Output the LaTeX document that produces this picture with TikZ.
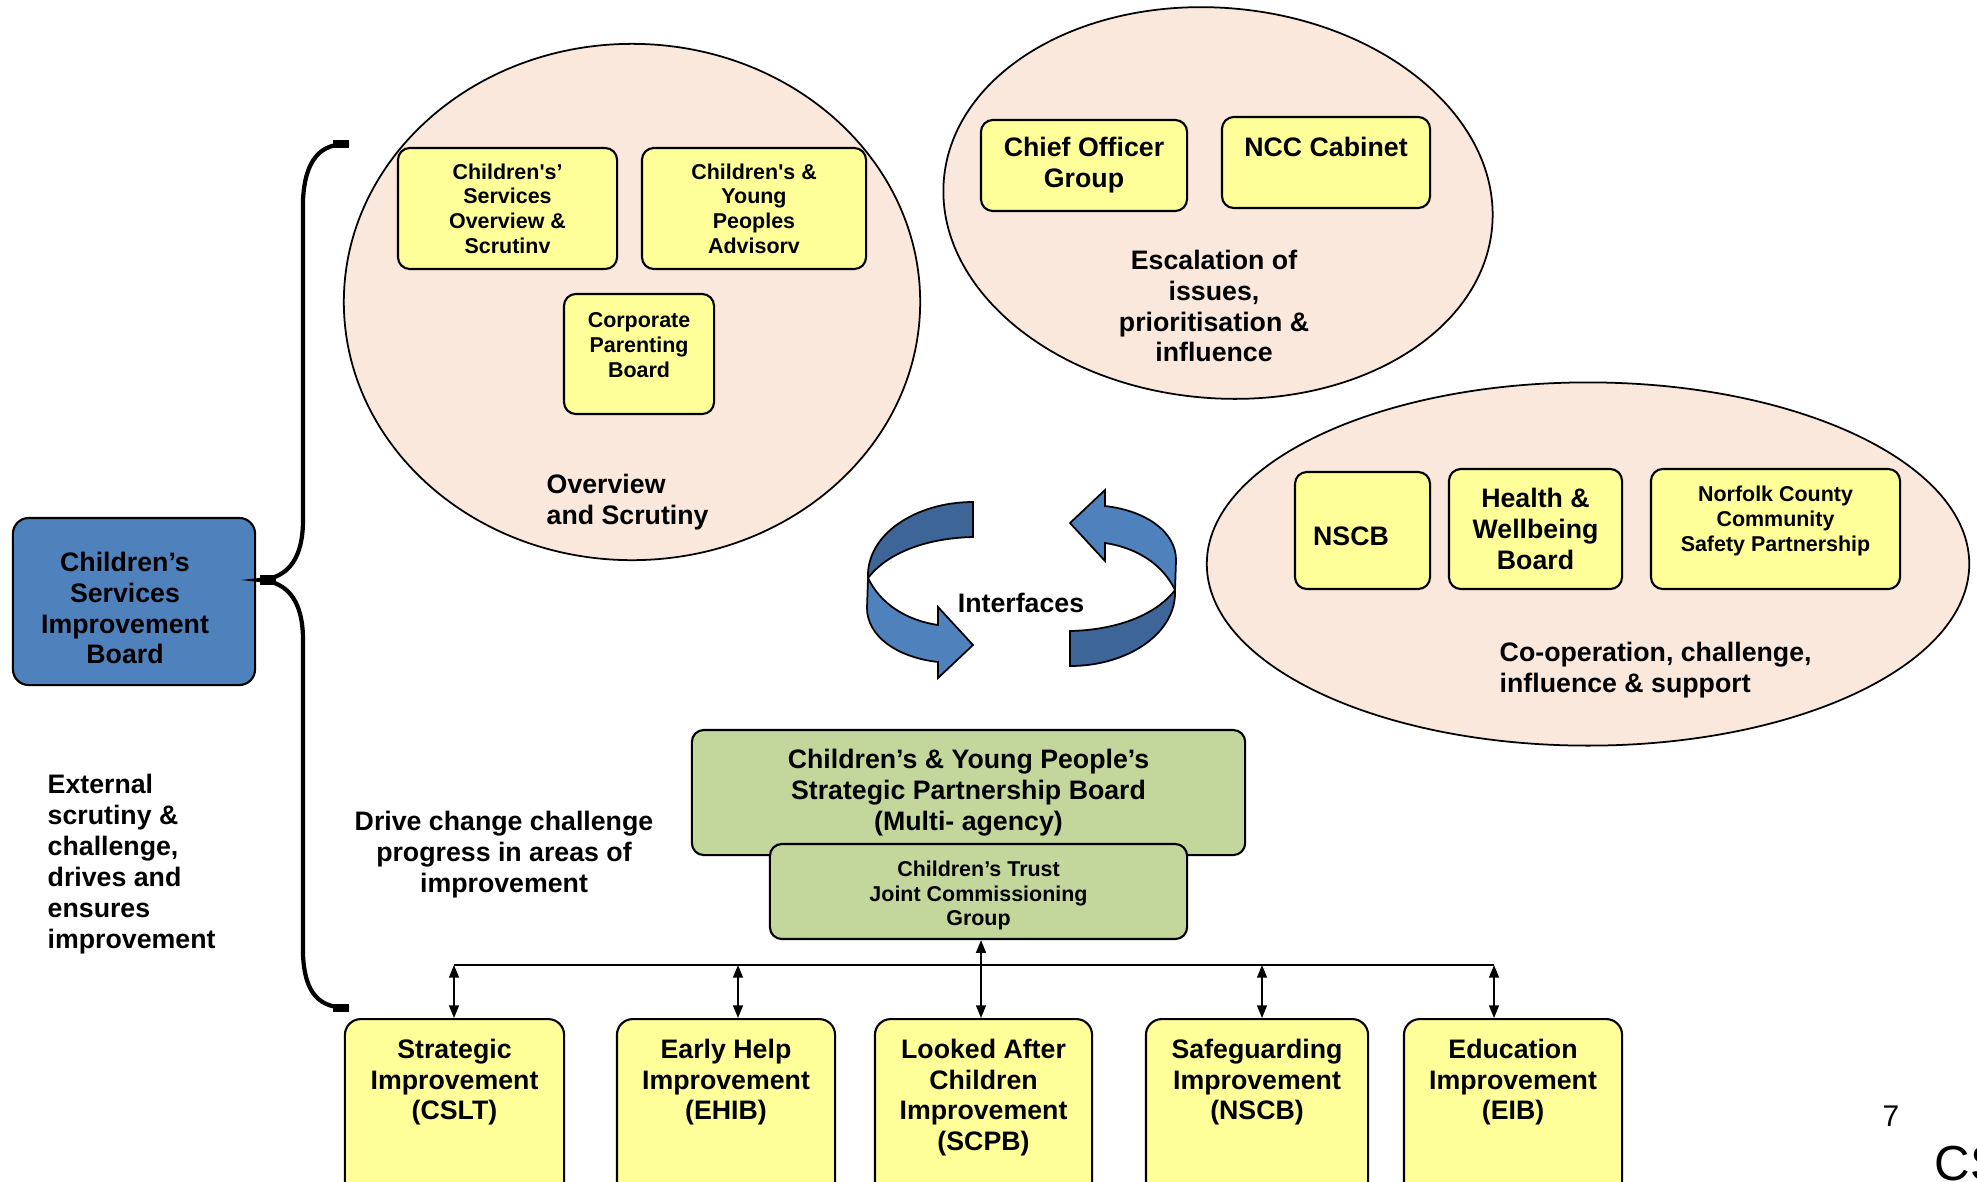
\documentclass[tikz,border=0pt]{standalone}
\usepackage{fontspec}
\setmainfont{Liberation Sans}
\usetikzlibrary{shapes.geometric,arrows.meta}
\definecolor{yboxc}{HTML}{FFFF99}
\definecolor{peachc}{HTML}{F9E8DB}
\definecolor{gboxc}{HTML}{C3D69B}
\definecolor{bboxc}{HTML}{4F81BD}
\definecolor{dbluec}{HTML}{3D6597}
\newcommand\mybigf{\fontsize{7.6}{8.8}\selectfont\bfseries}
\newcommand\mysmallf{\fontsize{6.1}{7.0}\selectfont\bfseries}
\tikzset{
  ellip/.style={ellipse, draw=black, fill=peachc, line width=0.5pt, inner sep=0pt},
  yb/.style={draw=black, fill=yboxc, line width=0.6pt, rounded corners=3.4pt, align=center, inner sep=0pt},
  gb/.style={draw=black, fill=gboxc, line width=0.6pt, rounded corners=3.4pt, align=center, inner sep=0pt},
  bb/.style={draw=black, fill=yboxc, line width=0.6pt, rounded corners=4.5pt, anchor=north, minimum height=2.0cm, inner sep=0pt},
  txt/.style={font=\mybigf, inner sep=0pt, text=black},
  stxt/.style={font=\mysmallf, inner sep=0pt, text=black},
  btxt/.style={font=\mybigf, inner sep=0pt, anchor=north, align=center},
  conn/.style={line width=0.5pt, {Triangle[length=3.6pt,width=2.8pt]}-{Triangle[length=3.6pt,width=2.8pt]}},
  ribd/.style={fill=dbluec, draw=black, line width=0.5pt},
  ribl/.style={fill=bboxc, draw=black, line width=0.5pt}
}
\begin{document}
\begin{tikzpicture}[x=0.01cm,y=-0.01cm]
\useasboundingbox (0,0) rectangle (1977,1181);

% Overview and Scrutiny
\node[ellip, minimum width=5.76cm, minimum height=5.16cm] (ovsell) at (632,302) {};
\node[yb, font=\mysmallf, minimum width=2.19cm, minimum height=1.21cm] (cso) at (507.5,208.5) {Children\textquotesingle s’\\Services\\Overview \&\\Scrutinv};
\node[yb, font=\mysmallf, minimum width=2.24cm, minimum height=1.21cm] (cyp) at (754,208.5) {Children\textquotesingle s \&\\Young\\Peoples\\Advisorv};
\node[yb, minimum width=1.50cm, minimum height=1.20cm] (cpb) at (639,354) {};
\node[stxt, align=center] (cpbt) at (639,345) {Corporate\\Parenting\\Board};
\node[txt, align=left, anchor=west] (ovst) at (546,502) {Overview\\and Scrutiny};

% Escalation
\node[ellip, rotate=-5, minimum width=5.50cm, minimum height=3.90cm] (escell) at (1218,203) {};
\node[yb, font=\mybigf, minimum width=2.06cm, minimum height=0.91cm] (cog) at (1084,165.5) {Chief Officer\\Group};
\node[yb, font=\mybigf, minimum width=2.08cm, minimum height=0.91cm] (ncc) at (1326,162.5) {NCC Cabinet\\\mbox{}};
\node[txt, align=center] (esct) at (1214,306) {Escalation of\\issues,\\prioritisation \&\\influence};

% Co-operation
\node[ellip, minimum width=7.62cm, minimum height=3.63cm] (coell) at (1588,564) {};
\node[yb, minimum width=1.35cm, minimum height=1.17cm] (nscb) at (1362.5,530.5) {};
\node[txt] (nscbt) at (1351,536) {NSCB};
\node[yb, font=\mybigf, minimum width=1.73cm, minimum height=1.20cm] (hwb) at (1535.5,529) {Health \&\\Wellbeing\\Board};
\node[yb, minimum width=2.49cm, minimum height=1.20cm] (ncsp) at (1775.5,529) {};
\node[stxt, align=center] (ncspt) at (1775.5,521) {Norfolk County\\Community\\Safety Partnership};
\node[txt, align=left, anchor=west] (coopt) at (1499,670) {Co-operation, challenge,\\influence \& support};

% Improvement board
\node[draw=black, fill=bboxc, line width=0.6pt, rounded corners=4.5pt, inner sep=0pt, minimum width=2.42cm, minimum height=1.67cm] (csib) at (134,601.5) {};
\node[txt, align=center] (csibt) at (125,608) {Children’s\\Services\\Improvement\\Board};
\node[txt, align=left, anchor=west] (ext) at (47,864) {External\\scrutiny \&\\challenge,\\drives and\\ensures\\improvement};

% Brace
\coordinate (btip) at (260,580);
\draw[line width=1.2pt] (349,144) .. controls (320,143) and (305,160) .. (303,200) -- (303,520) .. controls (303,556) and (290,578) .. (btip) .. controls (290,582) and (303,604) .. (303,640) -- (303,955) .. controls (305,995) and (320,1008) .. (349,1008);
\draw[line width=2.2pt] (333,144) -- (349,144);
\draw[line width=2.2pt] (333,1008) -- (349,1008);
\draw[line width=2.6pt] (btip) -- (276,580);

% Interfaces arrows
\fill[ribd] (973,502) -- (973,537) .. controls (928,538) and (888,552) .. (868,578) .. controls (866,535) and (915,502) .. (973,502) -- cycle;
\fill[ribl] (868,578) .. controls (880,603) and (905,620) .. (938,625) -- (938,607) -- (973,645) -- (938,678) -- (938,662) .. controls (895,657) and (867,635) .. (867,608) -- cycle;
\begin{scope}[rotate around={180:(1021.5,584)}]
\fill[ribd] (973,502) -- (973,537) .. controls (928,538) and (888,552) .. (868,578) .. controls (866,535) and (915,502) .. (973,502) -- cycle;
\fill[ribl] (868,578) .. controls (880,603) and (905,620) .. (938,625) -- (938,607) -- (973,645) -- (938,678) -- (938,662) .. controls (895,657) and (867,635) .. (867,608) -- cycle;
\end{scope}
\node[txt] (intf) at (1021,603) {Interfaces};

% Partnership board
\node[gb, font=\mybigf, minimum width=5.53cm, minimum height=1.25cm] (spb) at (968.5,792.5) {Children’s \& Young People’s\\Strategic Partnership Board\\(Multi- agency)};
\node[gb, minimum width=4.17cm, minimum height=0.95cm] (jcg) at (978.5,891.5) {};
\node[stxt, align=center] (jcgt) at (978.5,895.5) {Children’s Trust\\Joint Commissioning\\Group};
\node[txt, align=center] (drive) at (504,855) {Drive change challenge\\progress in areas of\\improvement};

% Bottom boxes
\node[bb, minimum width=2.19cm] (b1) at (454.5,1018) {};
\node[bb, minimum width=2.18cm] (b2) at (726,1018) {};
\node[bb, minimum width=2.17cm] (b3) at (983.5,1018) {};
\node[bb, minimum width=2.22cm] (b4) at (1257,1018) {};
\node[bb, minimum width=2.18cm] (b5) at (1513,1018) {};
\path (b1.north) ++(0,20) node[btxt] (b1t) {Strategic\\Improvement\\(CSLT)};
\path (b2.north) ++(0,20) node[btxt] (b2t) {Early Help\\Improvement\\(EHIB)};
\path (b3.north) ++(0,20) node[btxt] (b3t) {Looked After\\Children\\Improvement\\(SCPB)};
\path (b4.north) ++(0,20) node[btxt] (b4t) {Safeguarding\\Improvement\\(NSCB)};
\path (b5.north) ++(0,20) node[btxt] (b5t) {Education\\Improvement\\(EIB)};

% Connectors
\coordinate (a1) at (454,965);
\coordinate (a2) at (738,965);
\coordinate (a3) at (981,965);
\coordinate (a4) at (1262,965);
\coordinate (a5) at (1494,965);
\draw[line width=0.6pt] (a1) -- (a5);
\draw[conn] (a1) -- (a1 |- b1.north);
\draw[conn] (a2) -- (a2 |- b2.north);
\draw[conn] (a3 |- jcg.south) -- (a3 |- b3.north);
\draw[conn] (a4) -- (a4 |- b4.north);
\draw[conn] (a5) -- (a5 |- b5.north);

% Page marks
\node[font=\fontsize{8.5}{10}\selectfont, inner sep=0pt] (pg) at (1891,1116) {7};
\node[font=\fontsize{14}{17}\selectfont, anchor=base west, inner sep=0pt] (cs) at (1934,1180) {CS};
\end{tikzpicture}
\end{document}
